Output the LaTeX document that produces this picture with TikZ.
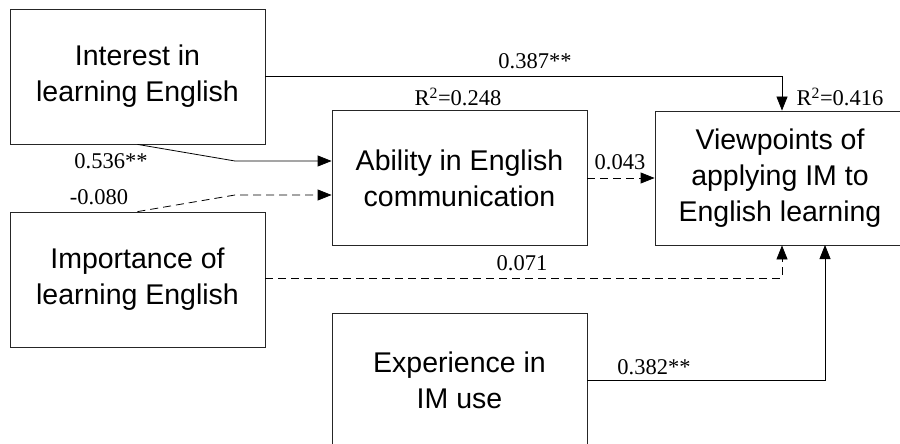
\documentclass[tikz,border=0pt]{standalone}
\usepackage{fontspec}
\setmainfont{Liberation Serif}
\newfontfamily\boxfont{Liberation Sans}
\usetikzlibrary{arrows.meta}
\begin{document}
\begin{tikzpicture}[x=1pt,y=-1pt,
  box/.style={draw=black!85,line width=0.8pt,rectangle,minimum width=255pt,minimum height=135pt,
    align=center,font=\boxfont\fontsize{28.5}{36}\selectfont,inner sep=0pt},
  arr/.style={line width=0.8pt,-{Triangle[length=14pt,width=11pt]}},
  dsh/.style={arr,dash pattern=on 8pt off 5pt},
  lab/.style={font=\fontsize{22.5}{24}\selectfont,inner sep=0pt}]
\useasboundingbox (0,0) rectangle (900,444);
\node[box] (intr) at (137.5,76.5) {Interest in\\learning English};
\node[box] (impt) at (137.5,279.5) {Importance of\\learning English};
\node[box] (abil) at (459.5,178) {Ability in English\\communication};
\node[box,minimum width=254pt,minimum height=134pt] (view) at (782,178) {};
\node[font=\boxfont\fontsize{28.5}{36}\selectfont,align=center,inner sep=0pt] (viewtxt) at (780,178) {Viewpoints of\\applying IM to\\English learning};
\node[box,minimum height=134pt] (expr) at (459.5,380) {Experience in\\IM use};
\coordinate (b1) at (235,161);
\coordinate (b2) at (235,195);
\coordinate (v2) at (825,245);
\draw[arr] (intr.east |- 0,76) -| (view.north);
\draw[arr] (intr.south) -- (b1) -- (b1 -| abil.west);
\draw[dsh] (impt.north) -- (b2) -- (b2 -| abil.west);
\draw[dsh] (abil.east) -- (view.west);
\draw[dsh] (impt.east |- 0,278) -| (view.south);
\draw[arr] (expr.east) -| (v2);
\node[lab] (l1) at (535,61) {0.387**};
\node[lab] (l2) at (111,161) {0.536**};
\node[lab] (l3) at (99,197) {-0.080};
\node[lab] (l4) at (620,162) {0.043};
\node[lab] (l5) at (522,263) {0.071};
\node[lab] (l6) at (654,367) {0.382**};
\node[lab] (r1) at (458,97) {R\textsuperscript{2}=0.248};
\node[lab] (r2) at (840,97) {R\textsuperscript{2}=0.416};
\end{tikzpicture}
\end{document}
